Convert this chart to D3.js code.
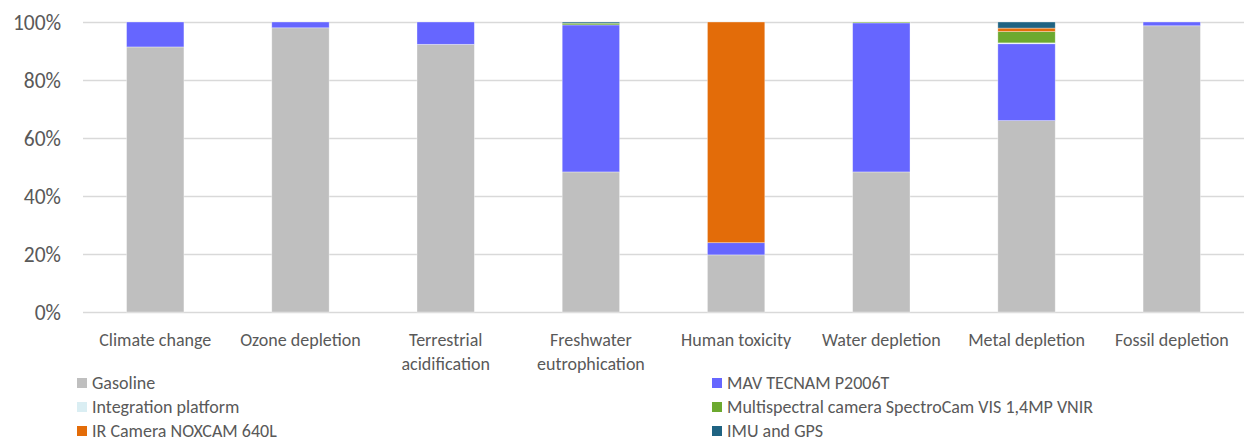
<!DOCTYPE html>
<html>
<head>
<meta charset="utf-8">
<script src="https://cdn.jsdelivr.net/npm/d3@7"></script>
<style>
  html, body { margin: 0; padding: 0; background: #fff; }
  svg { display: block; font-family: Carlito, Lato, "Open Sans", sans-serif; }
</style>
</head>
<body>
<svg id="chart" width="1244" height="442"></svg>
<script>
// Impact categories (x axis)
const categories = [
  "Climate change", "Ozone depletion", "Terrestrial acidification",
  "Freshwater eutrophication", "Human toxicity", "Water depletion",
  "Metal depletion", "Fossil depletion"
];

// Contribution of each component per category (%)
const gasoline      = [91.4, 98.0, 92.3, 48.3, 19.7, 48.3, 66.0, 98.7];
const mavTecnam     = [ 8.6,  2.0,  7.7, 50.7,  4.2, 51.4, 26.5,  1.3];
const integration   = [ 0,    0,    0,    0,    0,    0,    0.3,  0  ];
const multispectral = [ 0,    0,    0,    0.6,  0,    0.3,  3.9,  0  ];
const irCamera      = [ 0,    0,    0,    0,   76.1,  0,    1.2,  0  ];
const imuGps        = [ 0,    0,    0,    0.4,  0,    0,    2.1,  0  ];

const seriesNames = [
  "Gasoline", "MAV TECNAM P2006T", "Integration platform",
  "Multispectral camera SpectroCam VIS 1,4MP VNIR",
  "IR Camera NOXCAM 640L", "IMU and GPS"
];
const seriesValues = [gasoline, mavTecnam, integration, multispectral, irCamera, imuGps];
const seriesColors = ["#bfbfbf", "#6666ff", "#daeef3", "#6ca92f", "#e36c09", "#1f6382"];

const yTicks = [0, 0.2, 0.4, 0.6, 0.8, 1.0];

const rows = categories.map((c, i) => {
  const r = { category: c };
  seriesNames.forEach((s, j) => { r[s] = seriesValues[j][i]; });
  return r;
});

const svg = d3.select("#chart");
const margin = { left: 83, right: 0, top: 22, bottom: 130 };
const width = 1244, height = 442;
const labelFont = "18px";

const x = d3.scaleBand()
  .domain(categories)
  .range([margin.left, width - margin.right])
  .paddingInner(0.605)
  .paddingOuter(0.3);

const y = d3.scaleLinear().domain([0, 1]).range([312, 22]);

// Gridlines
svg.append("g")
  .selectAll("line")
  .data(yTicks)
  .join("line")
  .attr("x1", margin.left)
  .attr("x2", width)
  .attr("y1", d => Math.round(y(d)) + 0.5)
  .attr("y2", d => Math.round(y(d)) + 0.5)
  .attr("stroke", "#d9d9d9")
  .attr("stroke-width", 1.5);

// Y axis labels
const yAxis = d3.axisLeft(y)
  .tickValues(yTicks)
  .tickFormat(d3.format(".0%"))
  .tickSize(0)
  .tickPadding(0);
const gy = svg.append("g")
  .attr("transform", `translate(${margin.left - 22},0)`)
  .call(yAxis);
gy.select(".domain").remove();
gy.selectAll("text")
  .attr("fill", "#595959")
  .style("font-size", "21.5px")
  .style("font-family", "Carlito, Lato, sans-serif")
  .attr("dy", "0.35em");

// Stacked bars
const stack = d3.stack().keys(seriesNames).offset(d3.stackOffsetExpand);
const stacked = stack(rows);

svg.append("g")
  .selectAll("g")
  .data(stacked)
  .join("g")
  .attr("fill", (d, i) => seriesColors[i])
  .selectAll("rect")
  .data(d => d)
  .join("rect")
  .attr("x", d => x(d.data.category))
  .attr("width", x.bandwidth())
  .attr("y", d => y(d[1]))
  .attr("height", d => Math.max(0, y(d[0]) - y(d[1])))
  .attr("stroke", "#ffffff")
  .attr("stroke-opacity", 0.45)
  .attr("stroke-width", d => (d[1] - d[0]) > 0 ? 0.75 : 0);

// X axis category labels, wrapped to band width
const xAxis = d3.axisBottom(x).tickSize(0).tickPadding(0);
const gx = svg.append("g")
  .attr("transform", "translate(0,329)")
  .call(xAxis);
gx.select(".domain").remove();
gx.selectAll("text")
  .attr("fill", "#595959")
  .style("font-size", labelFont)
  .style("font-family", "Carlito, Lato, sans-serif")
  .attr("dy", null)
  .attr("y", 0)
  .each(function (d) {
    const t = d3.select(this);
    const words = d.split(" ");
    t.text(null);
    let line = [];
    let lines = [];
    const probe = t.append("tspan");
    words.forEach(w => {
      const test = line.concat(w).join(" ");
      probe.text(test);
      if (probe.node().getComputedTextLength() > x.step() - 8 && line.length) {
        lines.push(line.join(" "));
        line = [w];
      } else {
        line.push(w);
      }
    });
    lines.push(line.join(" "));
    probe.remove();
    lines.forEach((l, i) => {
      t.append("tspan")
        .attr("x", 0)
        .attr("y", 17 + i * 24)
        .text(l);
    });
  });

// Legend: two columns, row-major
const legend = svg.append("g");
const colX = [77, 712];
seriesNames.forEach((name, i) => {
  const cx = colX[i % 2];
  const cy = 383 + Math.floor(i / 2) * 24;
  legend.append("rect")
    .attr("x", cx).attr("y", cy - 5)
    .attr("width", 10).attr("height", 10)
    .attr("fill", seriesColors[i]);
  legend.append("text")
    .attr("x", cx + 15).attr("y", cy)
    .attr("dy", "0.35em")
    .attr("fill", "#595959")
    .style("font-size", labelFont)
    .text(name);
});
</script>
</body>
</html>
